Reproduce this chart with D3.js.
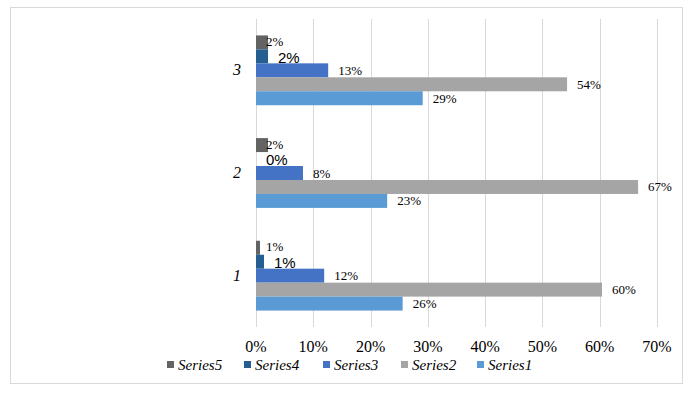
<!DOCTYPE html>
<html>
<head>
<meta charset="utf-8">
<script src="https://cdn.jsdelivr.net/npm/d3@7"></script>
<style>
  body { margin: 0; background: #fff; }
</style>
</head>
<body>
<div id="chart"></div>
<script>
// chart data (values in %)
const categories = ["3", "2", "1"];
const seriesNames = ["Series5", "Series4", "Series3", "Series2", "Series1"];
const series1 = { "1": 25.6, "2": 22.9, "3": 29.1 };
const series2 = { "1": 60.4, "2": 66.7, "3": 54.3 };
const series3 = { "1": 11.9, "2": 8.2, "3": 12.6 };
const series4 = { "1": 1.4, "2": 0, "3": 2.1 };
const series5 = { "1": 0.7, "2": 2.1, "3": 2.1 };
const tickValues = [0, 10, 20, 30, 40, 50, 60, 70];

const values = { Series1: series1, Series2: series2, Series3: series3, Series4: series4, Series5: series5 };

const colors = {
    Series1: "#5b9bd5",
    Series2: "#a5a5a5",
    Series3: "#4472c4",
    Series4: "#255e91",
    Series5: "#636363"
};

const width = 694, height = 395;
const svg = d3.select("#chart").append("svg")
    .attr("width", width)
    .attr("height", height);

// outer frame
svg.append("rect")
    .attr("x", 10.5).attr("y", 7.5)
    .attr("width", 672).attr("height", 376)
    .attr("fill", "#fff")
    .attr("stroke", "#d9d9d9");

const x = d3.scaleLinear().domain([0, 70]).range([256, 657]);

const y0 = d3.scaleBand()
    .domain(categories)
    .range([19, 327])
    .paddingInner(0.32)
    .paddingOuter(0.16);

const y1 = d3.scaleBand()
    .domain(seriesNames)
    .range([0, y0.bandwidth()]);

// gridlines
svg.append("g")
    .selectAll("line")
    .data(tickValues)
    .join("line")
    .attr("x1", d => Math.round(x(d)) + 0.5)
    .attr("x2", d => Math.round(x(d)) + 0.5)
    .attr("y1", 19)
    .attr("y2", 327)
    .attr("stroke", "#d9d9d9");

// x tick labels
svg.append("g")
    .selectAll("text")
    .data(tickValues)
    .join("text")
    .attr("x", d => x(d))
    .attr("y", 352)
    .attr("text-anchor", "middle")
    .style("font-family", "'Liberation Serif', 'Times New Roman', serif")
    .style("font-size", "16px")
    .style("fill", "#000")
    .text(d => d + "%");

// category labels
svg.append("g")
    .selectAll("text")
    .data(categories)
    .join("text")
    .attr("x", 241)
    .attr("y", d => y0(d) + y0.bandwidth() / 2 + 5)
    .attr("text-anchor", "end")
    .style("font-family", "'Liberation Serif', 'Times New Roman', serif")
    .style("font-style", "italic")
    .style("font-size", "16px")
    .text(d => d);

// bars
const groups = svg.append("g")
    .selectAll("g")
    .data(categories)
    .join("g")
    .attr("transform", d => `translate(0,${y0(d)})`);

const points = groups.selectAll("g.pt")
    .data(cat => seriesNames.map(s => ({ cat, s, v: values[s][cat] })))
    .join("g")
    .attr("class", "pt");

points.append("rect")
    .attr("x", x(0))
    .attr("y", d => y1(d.s))
    .attr("width", d => x(d.v) - x(0))
    .attr("height", y1.bandwidth())
    .attr("fill", d => colors[d.s]);

// Series5 labels sit near the axis; Series4 labels are bigger and sans
points.append("text")
    .attr("x", d => d.s === "Series5" ? x(0) + 10 : x(d.v) + 10)
    .attr("y", d => y1(d.s) + y1.bandwidth() / 2 + (d.s === "Series5" ? -1 : d.s === "Series4" ? 1 : 0))
    .attr("dy", "0.35em")
    .style("font-family", d => d.s === "Series4" ? "'Liberation Sans', Arial, sans-serif" : "'Liberation Serif', 'Times New Roman', serif")
    .style("font-size", d => d.s === "Series4" ? "15px" : "13px")
    .style("fill", "#000")
    .text(d => Math.round(d.v) + "%");

// legend
const legendX = [167, 244, 323, 401, 477];
const legend = svg.append("g")
    .selectAll("g")
    .data(seriesNames)
    .join("g")
    .attr("transform", (d, i) => `translate(${legendX[i]},362)`);

legend.append("rect")
    .attr("x", 0).attr("y", -1)
    .attr("width", 7).attr("height", 7)
    .attr("fill", d => colors[d]);

legend.append("text")
    .attr("x", 11)
    .attr("y", 8)
    .style("font-family", "'Liberation Serif', 'Times New Roman', serif")
    .style("font-style", "italic")
    .style("font-size", "15px")
    .text(d => d);
</script>
</body>
</html>
